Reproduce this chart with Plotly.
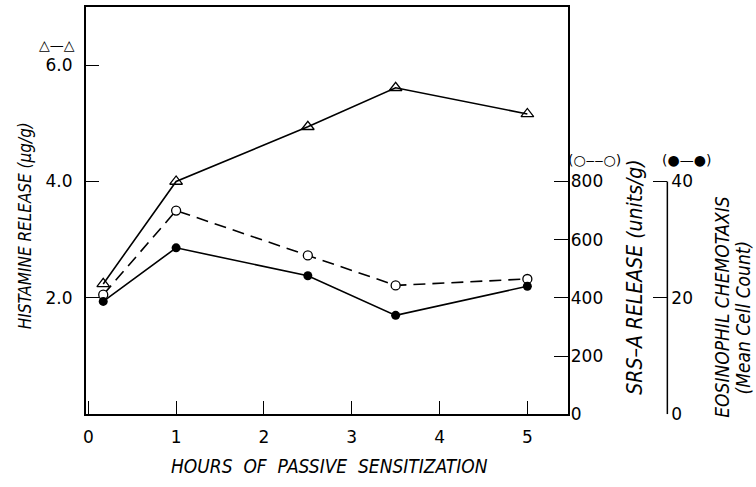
import plotly.graph_objects as go

hours = [0.17, 1, 2.5, 3.5, 5]
histamine = [2.24, 4.0, 4.94, 5.61, 5.16]
srs_a = [411, 700, 546, 443, 465]
eosinophil = [19.4, 28.6, 23.8, 17.0, 22.0]

x_ticks = [0, 1, 2, 3, 4, 5]
hist_ticks = [2, 4, 6]
srs_ticks = [0, 200, 400, 600, 800]
eos_ticks = [0, 20, 40]

FONT = "DejaVu Sans, Liberation Sans, sans-serif"
TITLE_FAMILY = "Liberation Sans Narrow, DejaVu Sans Condensed, Liberation Sans, sans-serif"
TICK_FONT = dict(family=FONT, size=17, color="black")

W, H = 756, 487
L, R, T, B = 83, 567, 7, 423


def fx(px):
    return px / W


def fy(py):
    return 1 - py / H


fig = go.Figure()
fig.add_trace(go.Scatter(x=hours, y=histamine, mode="lines+markers",
                         line=dict(color="black", width=1.6),
                         marker=dict(symbol="triangle-up-open", size=11, color="black",
                                     line=dict(width=1.3)),
                         yaxis="y"))
fig.add_trace(go.Scatter(x=hours, y=srs_a, mode="lines+markers",
                         line=dict(color="black", width=1.6, dash="12px,7px"),
                         marker=dict(symbol="circle", size=9, color="white",
                                     line=dict(width=1.3, color="black")),
                         yaxis="y2"))
fig.add_trace(go.Scatter(x=hours, y=eosinophil, mode="lines+markers",
                         line=dict(color="black", width=1.6),
                         marker=dict(symbol="circle", size=9, color="black"),
                         yaxis="y3"))

fig.update_layout(
    width=W, height=H,
    margin=dict(l=0, r=0, t=0, b=0),
    paper_bgcolor="white", plot_bgcolor="white",
    showlegend=False,
    xaxis=dict(domain=[fx(L), fx(R)], range=[-0.03, 5.46], tickvals=x_ticks,
               ticktext=[str(v) for v in x_ticks],
               ticks="inside", ticklen=14, tickwidth=1.3, tickcolor="black",
               showline=True, linecolor="black", linewidth=1.5, mirror=True,
               showgrid=False, zeroline=False, tickfont=TICK_FONT, ticklabelstandoff=7),
    yaxis=dict(domain=[fy(B), fy(T)], range=[0, 7], tickvals=hist_ticks,
               ticktext=["2.0", "4.0", "6.0"],
               ticks="inside", ticklen=14, tickwidth=1.3, tickcolor="black",
               showline=True, linecolor="black", linewidth=1.5, mirror=True,
               showgrid=False, zeroline=False, tickfont=TICK_FONT, ticklabelstandoff=8),
    yaxis2=dict(range=[0, 1400], tickvals=srs_ticks, overlaying="y", side="right",
                anchor="x", ticks="inside", ticklen=14, tickwidth=1.3, tickcolor="black",
                showline=False, showgrid=False, zeroline=False, tickfont=TICK_FONT,
                ticklabelstandoff=2),
    yaxis3=dict(range=[0, 70], tickvals=eos_ticks, overlaying="y", side="right",
                anchor="free", position=fx(667), ticks="inside", ticklen=14,
                tickwidth=1.3, tickcolor="black",
                showline=False, showgrid=False, zeroline=False, tickfont=TICK_FONT,
                ticklabelstandoff=3),
)

# eosinophil axis bracket line (only spans 0-40)
fig.add_shape(type="line", xref="paper", yref="y3", x0=fx(667), x1=fx(667),
              y0=eos_ticks[0], y1=eos_ticks[-1], line=dict(color="black", width=1.5))

titles = [
    ("HISTAMINE RELEASE (μg/g)", 22, 230, -90, 17),
    ("SRS–A RELEASE (units/g)", 635, 283, -90, 21),
    ("EOSINOPHIL CHEMOTAXIS", 721, 314, -90, 19),
    ("(Mean Cell Count)", 743, 324, -90, 19),
    ("HOURS  OF  PASSIVE  SENSITIZATION", 328, 476, 0, 19),
]
for txt, px, py, ang, sz in titles:
    fig.add_annotation(xref="paper", yref="paper", showarrow=False, text=txt,
                       x=fx(px), y=fy(py), textangle=ang,
                       xanchor="center", yanchor="middle", borderpad=0,
                       font=dict(family=TITLE_FAMILY, size=sz, color="black", style="italic"))

keys = [("△—△", 54, 46), ("(○‒‒○)", 594, 163), ("(●—●)", 686, 163)]
for txt, kx, ky in keys:
    fig.add_annotation(xref="paper", yref="paper", showarrow=False, text=txt,
                       x=fx(kx), y=fy(ky), xanchor="center", yanchor="middle",
                       font=dict(family=FONT, size=14, color="black"))

fig.write_html("out.html", config={"displayModeBar": False},
               post_script="document.body.style.margin='0';document.body.style.overflow='hidden';")
